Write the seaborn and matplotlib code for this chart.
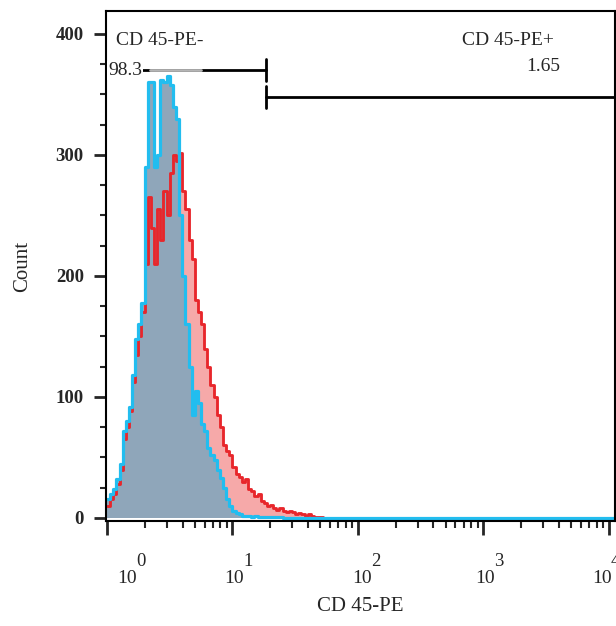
import matplotlib
matplotlib.use("Agg")
import matplotlib.pyplot as plt
import matplotlib.ticker as mticker
import numpy as np
import pandas as pd
import seaborn as sns

# channel width in decades, and counts per channel
bin_width = 0.025
axis_decades = 4.05

cyan_counts = [16, 20, 24, 32, 45, 72, 80, 92, 118, 148, 160, 178,
               290, 360, 360, 290, 300, 362, 360, 365, 358, 340, 330, 250,
               200, 160, 125, 85, 105, 95, 78, 72, 58, 52, 48, 40,
               33, 25, 16, 10, 6, 4, 3, 2, 2, 2, 1, 2,
               1, 1, 1, 1, 1, 1, 1, 1, 0, 0, 0, 0,
               0, 0, 0, 0, 0, 0, 0, 0, 0, 0, 0, 0]
red_counts = [10, 16, 20, 28, 40, 65, 75, 88, 112, 135, 150, 170,
              210, 265, 240, 210, 255, 230, 270, 250, 285, 300, 295, 302,
              270, 255, 230, 214, 180, 170, 160, 140, 125, 110, 100, 85,
              75, 60, 55, 52, 42, 36, 34, 30, 32, 24, 22, 18,
              20, 14, 12, 10, 11, 8, 7, 8, 6, 5, 6, 5,
              3, 4, 3, 2, 3, 2, 1, 1, 1, 0, 0, 0]

# decade tick labels and how far each one sits from its tick (pixels)
decades = [0, 1, 2, 3, 4]
label_shift = [10, -8, -6, -8, -17]

# gates (log10 of CD45-PE) and their labels
gate_split = 1.27
gate_neg_y = 370
gate_pos_y = 348
gate_neg_label = "CD 45-PE-"
gate_pos_label = "CD 45-PE+"
gate_neg_pct = "98.3"
gate_pos_pct = "1.65"

n_bins = int(round(axis_decades / bin_width))
pad = n_bins - len(cyan_counts)
df = pd.DataFrame({
    "cd45": 10 ** (np.arange(n_bins) * bin_width + bin_width / 2),
    "cyan": np.concatenate([cyan_counts, np.zeros(pad)]),
    "red": np.concatenate([red_counts, np.zeros(pad)]),
})

sns.set_style("ticks")
plt.rcParams["font.family"] = ["Liberation Serif", "DejaVu Serif"]

fig = plt.figure(figsize=(6.16, 6.26), dpi=100)
ax = fig.add_axes([106 / 616, 1 - 521 / 626, 509 / 616, 510 / 626])

hist_kw = dict(data=df, x="cd45", bins=n_bins, binrange=(0, axis_decades),
               log_scale=True, element="step", ax=ax)
sns.histplot(weights="red", fill=True, color="#f6a9a9", alpha=1, linewidth=0, **hist_kw)
sns.histplot(weights="red", fill=False, color="#e8262b", linewidth=2, **hist_kw)
sns.histplot(weights="cyan", fill=True, color="#8fa6ba", alpha=1, linewidth=0, **hist_kw)
# red trace seen faintly through the shared fill
sns.histplot(weights="red", fill=False, color="#e8262b", alpha=0.3, linewidth=2, **hist_kw)
sns.histplot(weights="cyan", fill=False, color="#22bdef", linewidth=2.3, **hist_kw)

# gates
split = 10 ** gate_split
ax.plot([1, split], [gate_neg_y, gate_neg_y], color="black", lw=2)
ax.plot([2.2, 5.6], [gate_neg_y, gate_neg_y], color="#b5b5b5", lw=2)
ax.plot([split, split], [gate_neg_y - 9, gate_neg_y + 9], color="black", lw=2)
ax.plot([split, 10 ** axis_decades], [gate_pos_y, gate_pos_y], color="black", lw=2)
ax.plot([split, split], [gate_pos_y - 9, gate_pos_y + 9], color="black", lw=2)

ax.text(10 ** 0.07, 395, gate_neg_label, fontsize=14, ha="left", va="center")
ax.text(1.02, gate_neg_y, gate_neg_pct, fontsize=14, ha="left", va="center",
        bbox=dict(facecolor="white", edgecolor="none", pad=0.5))
ax.text(10 ** 2.83, 395, gate_pos_label, fontsize=14, ha="left", va="center")
ax.text(10 ** 3.34, 373, gate_pos_pct, fontsize=14, ha="left", va="center")

ax.set_xlim(10 ** -0.008, 10 ** axis_decades)
ax.set_ylim(-2.5, 419)
ax.xaxis.set_major_locator(mticker.FixedLocator([10 ** d for d in decades]))
ax.xaxis.set_major_formatter(mticker.NullFormatter())
ax.xaxis.set_minor_locator(mticker.LogLocator(base=10, subs=np.arange(2, 10)))
ax.xaxis.set_minor_formatter(mticker.NullFormatter())
ax.yaxis.set_major_locator(mticker.MultipleLocator(100))
ax.yaxis.set_minor_locator(mticker.MultipleLocator(25))

# decade labels drawn as "10" plus a raised exponent
for d, dx in zip(decades, label_shift):
    ax.annotate("10", xy=(10 ** d, 0), xycoords=("data", "axes fraction"),
                xytext=(dx, -62), textcoords="offset pixels",
                ha="left", va="baseline", fontsize=14, annotation_clip=False)
    ax.annotate(str(d), xy=(10 ** d, 0), xycoords=("data", "axes fraction"),
                xytext=(dx + 19, -45), textcoords="offset pixels",
                ha="left", va="baseline", fontsize=13.5, annotation_clip=False)

ax.tick_params(axis="x", which="major", length=10, width=2)
ax.tick_params(axis="x", which="minor", length=5, width=1.5)
ax.tick_params(axis="y", which="major", length=9, width=2, pad=7, labelsize=13.5)
ax.tick_params(axis="y", which="minor", length=4, width=1.5)
for lab in ax.get_yticklabels():
    lab.set_fontweight("bold")
for side in ax.spines.values():
    side.set_linewidth(1.5)
    side.set_color("black")

ax.set_xlabel("CD 45-PE", fontsize=15)
ax.set_ylabel("Count", fontsize=15)
ax.xaxis.set_label_coords(0.5, -0.149)
ax.yaxis.set_label_coords(-0.145, 0.5)

fig.savefig("out.png", dpi=100)
